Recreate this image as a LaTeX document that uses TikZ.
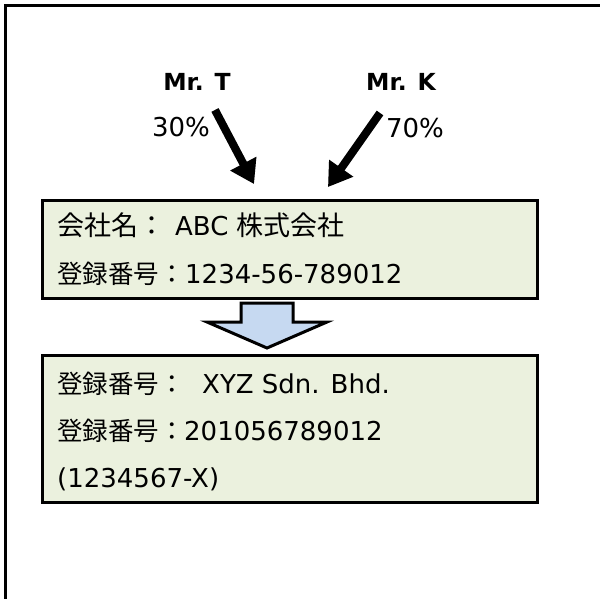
\documentclass[tikz,border=0pt]{standalone}
\usepackage{fontspec}
\setmainfont{DejaVu Sans}
\newfontfamily\jp{Noto Sans CJK JP}
\usetikzlibrary{arrows.meta}
\definecolor{boxfill}{HTML}{EBF1DE}
\definecolor{arrowfill}{HTML}{C6D9F1}
\newcommand{\jpbig}{\jp\fontsize{27}{30}\selectfont}
\newcommand{\jpmid}{\jp\fontsize{25.5}{30}\selectfont}
\begin{document}
\begin{tikzpicture}[x=1pt,y=-1pt,
 panel/.style={draw=black, line width=3pt, fill=boxfill, rectangle, inner sep=0pt},
 txt/.style={anchor=base west, inner sep=0pt, font=\fontsize{26}{30}\selectfont},
 lbl/.style={inner sep=0pt, font=\fontsize{26}{30}\selectfont},
 who/.style={inner sep=0pt, font=\fontsize{23.5}{28}\selectfont\bfseries},
 own/.style={line width=8pt, -{Triangle[length=23pt,width=28pt]}},
 ownshadow/.style={line width=8pt, draw=black!20, -{Triangle[length=23pt,width=28pt]}},
]
\useasboundingbox (0,0) rectangle (600,598);
\draw[line width=3pt] (5,602) -- (5,5) -- (602,5);

% labels
\node[who] (mt) at (197,82) {Mr. T};
\node[who] (mk) at (401,82) {Mr. K};
\node[lbl] (p30) at (181,127) {30\%};
\node[lbl] (p70) at (415,128) {70\%};

% ownership arrows
\coordinate (tT) at (215,110);
\coordinate (hT) at (254,184);
\coordinate (tK) at (380,113);
\coordinate (hK) at (328,187);
\begin{scope}[shift={(2,3)}]
\draw[ownshadow] (tT) -- (hT);
\draw[ownshadow] (tK) -- (hK);
\end{scope}
\draw[own] (tT) -- (hT);
\draw[own] (tK) -- (hK);

% boxes
\node[panel, minimum width=495pt, minimum height=98pt] (b1) at (289.5,249) {};
\node[panel, minimum width=495pt, minimum height=147pt] (b2) at (289.5,428.5) {};

% block arrow
\draw[line width=3pt, fill=arrowfill, line join=miter]
  (241,303) -- (293,303) -- (293,322) -- (327,322) -- (267,348) -- (207,322) -- (241,322) -- cycle;

% texts
\node[txt] (t1) at (57,235) {\makebox[118pt][l]{\jpbig 会社名：}ABC {\jpbig 株式会社}};
\node[txt] (t2) at (57,283) {\makebox[128pt][l]{\jpmid 登録番号：}1234-56-789012};
\node[txt] (t3) at (57,393) {\makebox[145pt][l]{\jpmid 登録番号：}XYZ Sdn. Bhd.};
\node[txt] (t4) at (57,440) {\makebox[127pt][l]{\jpmid 登録番号：}201056789012};
\node[txt] (t5) at (57,487) {(1234567-X)};
\end{tikzpicture}
\end{document}
